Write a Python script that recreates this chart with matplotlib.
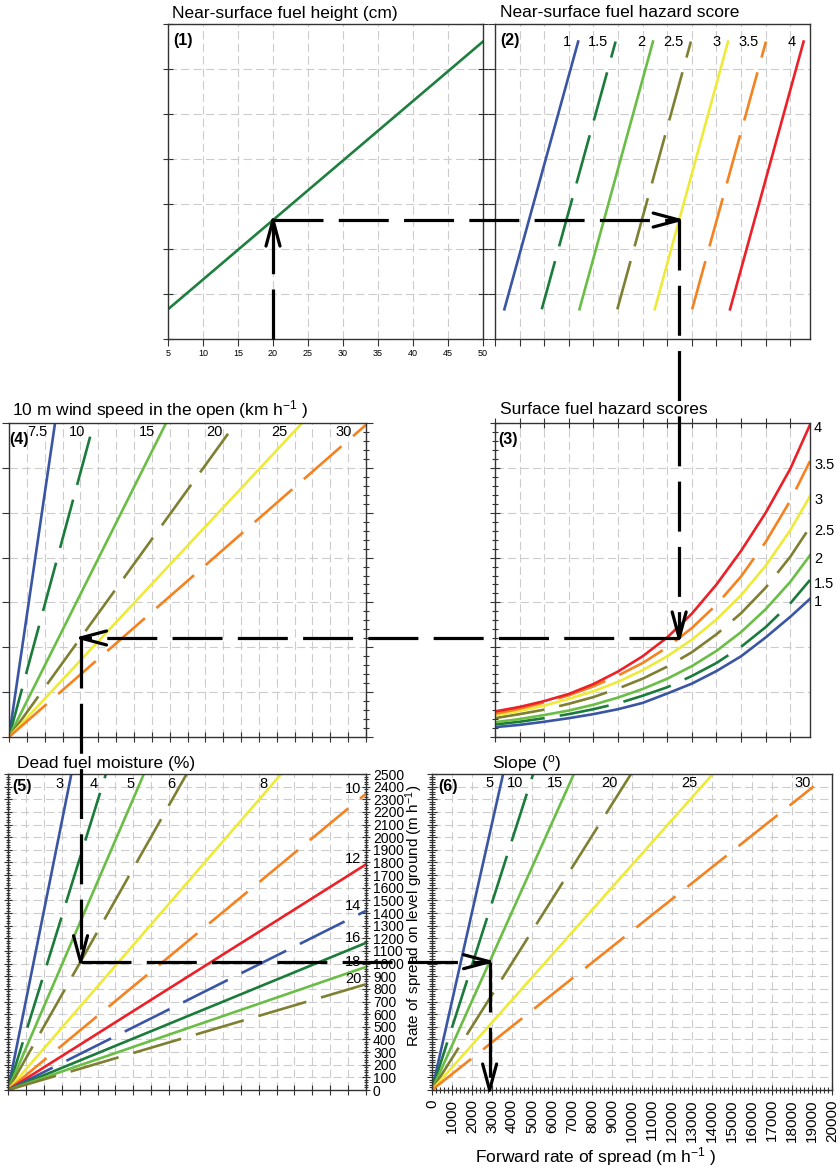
import matplotlib.pyplot as plt
import numpy as np
from matplotlib.ticker import MultipleLocator

plt.rcParams['font.family'] = 'Liberation Sans'
plt.rcParams['mathtext.fontset'] = 'custom'
plt.rcParams['mathtext.rm'] = 'Liberation Sans'
plt.rcParams['mathtext.default'] = 'regular'
plt.rcParams['lines.scale_dashes'] = False

W, H = 840, 1171

BLUE = '#3a55a4'
DKGREEN = '#1b7b3b'
LTGREEN = '#6abd45'
OLIVE = '#7f7f32'
YELLOW = '#eeea3a'
ORANGE = '#f58220'
RED = '#ec2027'
DASH = (0, (36, 11))

# (1) near-surface fuel height -> reading level
height_cm = [5, 50]
height_level = [0.66, 6.61]

# (2) near-surface fuel hazard score lines
ns_scores = ['1', '1.5', '2', '2.5', '3', '3.5', '4']
ns_x_bottom = [0.38, 1.90, 3.43, 4.97, 6.49, 8.01, 9.55]
ns_x_top = [3.38, 4.90, 6.42, 7.96, 9.47, 11.01, 12.54]
ns_y = [0.66, 6.61]

# (3) surface fuel hazard score curves
surf_scores = ['1', '1.5', '2', '2.5', '3', '3.5', '4']
surf_x = [0, 1, 2, 3, 4, 5, 6, 7, 8, 9, 10, 11, 12, 12.8]
surf_1 = [0.22, 0.27, 0.34, 0.42, 0.51, 0.62, 0.76, 0.97, 1.19, 1.47, 1.80, 2.22, 2.68, 3.08]
surf_15 = [0.28, 0.34, 0.42, 0.51, 0.62, 0.75, 0.92, 1.11, 1.36, 1.65, 2.01, 2.45, 2.98, 3.50]
surf_2 = [0.33, 0.40, 0.49, 0.59, 0.72, 0.88, 1.07, 1.30, 1.58, 1.92, 2.34, 2.85, 3.46, 4.05]
surf_25 = [0.42, 0.51, 0.61, 0.74, 0.89, 1.08, 1.30, 1.57, 1.89, 2.29, 2.76, 3.33, 4.02, 4.68]
surf_3 = [0.48, 0.58, 0.70, 0.85, 1.02, 1.23, 1.49, 1.80, 2.17, 2.62, 3.16, 3.82, 4.61, 5.37]
surf_35 = [0.52, 0.63, 0.77, 0.93, 1.13, 1.37, 1.65, 2.00, 2.43, 2.95, 3.58, 4.35, 5.27, 6.15]
surf_4 = [0.57, 0.67, 0.80, 0.96, 1.18, 1.46, 1.80, 2.22, 2.75, 3.40, 4.15, 5.00, 5.98, 6.96]
surf_curves = [surf_1, surf_15, surf_2, surf_25, surf_3, surf_35, surf_4]

# (4) 10 m wind speed rays (end points)
wind_labels = ['7.5', '10', '15', '20', '25', '30']
wind_end_x = [2.58, 4.59, 8.80, 12.27, 16.42, 20.0]
wind_end_y = [7.0, 6.76, 7.0, 6.76, 7.0, 6.96]

# (5) dead fuel moisture rays (end points), rate of spread on level ground
moist_labels = ['3', '4', '5', '6', '8', '10', '12', '14', '16', '18', '20']
moist_end_x = [3.54, 5.47, 7.59, 9.98, 15.26, 20, 20, 20, 20, 20, 20]
moist_end_y = [2500, 2500, 2500, 2500, 2500, 2344, 1785, 1418, 1164, 974, 837]

# (6) slope rays (end points), forward rate of spread
slope_labels = ['5', '10', '15', '20', '25', '30']
slope_end_x = [3556, 5058, 7095, 9950, 14040, 19082]
slope_end_y = [2500, 2500, 2500, 2500, 2500, 2402]

# worked example
ex_height = 20
ex_ns_score = '3'
ex_surf_score = '3.5'
ex_wind = '20'
ex_moist = '6'
ex_slope = '15'

# line styles per series
score_colors = [BLUE, DKGREEN, LTGREEN, OLIVE, YELLOW, ORANGE, RED]
score_styles = ['-', DASH, '-', DASH, '-', DASH, '-']
six_colors = [BLUE, DKGREEN, LTGREEN, OLIVE, YELLOW, ORANGE]
six_styles = ['-', DASH, '-', DASH, '-', DASH]
moist_colors = [BLUE, DKGREEN, LTGREEN, OLIVE, YELLOW, ORANGE, RED, BLUE, DKGREEN, LTGREEN, OLIVE]
moist_styles = ['-', DASH, '-', DASH, '-', DASH, '-', DASH, '-', '-', DASH]

LW = 1.9

fig = plt.figure(figsize=(W / 100, H / 100), dpi=100)


def add_panel(left, top, right, bottom):
    return fig.add_axes([left / W, 1 - bottom / H, (right - left) / W, (bottom - top) / H])


ax1 = add_panel(168, 24, 483, 339)
ax2 = add_panel(495, 24, 810, 339)
ax4 = add_panel(9, 423, 366, 737)
ax3 = add_panel(495, 423, 810, 737)
ax5 = add_panel(8, 774, 366, 1090)
ax6 = add_panel(432, 774, 832, 1090)

for ax in (ax1, ax2, ax3, ax4, ax5, ax6):
    ax.grid(True, which='major', color='#cccccc', linestyle=(0, (6, 3)), linewidth=0.8)
    ax.set_axisbelow(True)
    for sp in ax.spines.values():
        sp.set_color('#333333')
        sp.set_linewidth(1.0)
    ax.tick_params(which='both', color='#333333', width=0.8)


def heading(ax, text, dx, dy):
    ax.annotate(text, xy=(0, 1), xycoords='axes fraction', xytext=(dx, dy),
                textcoords='offset pixels', ha='left', va='baseline', fontsize=12.5)


def tag(ax, text, dx, dy):
    ax.annotate(text, xy=(0, 1), xycoords='axes fraction', xytext=(dx, dy),
                textcoords='offset pixels', ha='left', va='center',
                fontsize=11.5, fontweight='bold')


# (1)
ax1.plot(height_cm, height_level, color='#1f7f3f', lw=LW)
ax1.set_xlim(5, 50)
ax1.set_ylim(0, 7)
ax1.set_xticks(range(5, 51, 5))
ax1.set_yticks(range(0, 8))
ax1.tick_params(axis='x', direction='out', length=5, labelsize=6.5, pad=2)
ax1.tick_params(axis='y', left=True, right=True, direction='inout', length=7, labelleft=False)
heading(ax1, 'Near-surface fuel height (cm)', 4, 6)
tag(ax1, '(1)', 5, -17)

# (2)
for i, s in enumerate(ns_scores):
    ax2.plot([ns_x_bottom[i], ns_x_top[i]], ns_y, color=score_colors[i],
             linestyle=score_styles[i], lw=LW)
    ax2.text(ns_x_top[i] - 0.3, ns_y[1], s, ha='right', va='center', fontsize=10.5)
ax2.set_xlim(0, 12.8)
ax2.set_ylim(0, 7)
ax2.set_xticks(range(0, 13))
ax2.set_yticks(range(0, 8))
ax2.tick_params(direction='out', length=5, labelbottom=False, labelleft=False)
heading(ax2, 'Near-surface fuel hazard score', 5, 7)
tag(ax2, '(2)', 5, -17)

# (3)
for i, s in enumerate(surf_scores):
    ax3.plot(surf_x, surf_curves[i], color=score_colors[i], linestyle=score_styles[i], lw=LW)
    ax3.text(1.013, surf_curves[i][-1] - 0.08, s, transform=ax3.get_yaxis_transform(),
             ha='left', va='center', fontsize=10.5)
ax3.set_xlim(0, 12.8)
ax3.set_ylim(0, 7)
ax3.set_xticks(range(0, 13))
ax3.set_yticks(range(0, 8))
ax3.yaxis.set_minor_locator(MultipleLocator(0.2))
ax3.tick_params(axis='x', top=True, bottom=True, direction='inout', length=7,
                labelbottom=False)
ax3.tick_params(axis='y', which='both', direction='inout', labelleft=False)
ax3.tick_params(axis='y', which='major', length=7)
ax3.tick_params(axis='y', which='minor', length=4)
heading(ax3, 'Surface fuel hazard scores', 5, 9)
tag(ax3, '(3)', 3, -16)

# (4)
for i, s in enumerate(wind_labels):
    ax4.plot([0, wind_end_x[i]], [0, wind_end_y[i]], color=six_colors[i],
             linestyle=six_styles[i], lw=LW)
    lx = wind_end_x[i] * 6.8 / wind_end_y[i] - 0.35
    ax4.text(lx, 6.8, s, ha='right', va='center', fontsize=10.5)
ax4.set_xlim(0, 20)
ax4.set_ylim(0, 7)
ax4.set_xticks(range(0, 21))
ax4.set_yticks(range(0, 8))
ax4.yaxis.set_minor_locator(MultipleLocator(0.2))
ax4.tick_params(axis='x', direction='inout', length=7, labelbottom=False)
ax4.tick_params(axis='y', which='major', left=True, right=True, direction='out', length=5,
                labelleft=False)
ax4.tick_params(axis='y', which='minor', left=False, right=True, direction='inout', length=5)
heading(ax4, '10 m wind speed in the open (km h$^{-1}$ )', 3, 8)
tag(ax4, '(4)', 0, -16)

# (5)
for i, s in enumerate(moist_labels):
    ax5.plot([0, moist_end_x[i]], [0, moist_end_y[i]], color=moist_colors[i],
             linestyle=moist_styles[i], lw=LW)
    if moist_end_y[i] >= 2500:
        lx = moist_end_x[i] * 2421 / moist_end_y[i] - 0.3
        ax5.text(lx, 2421, s, ha='right', va='center', fontsize=10.5)
    else:
        ax5.text(19.75, moist_end_y[i] + 40, s, ha='right', va='center', fontsize=10.5)
ax5.set_xlim(0, 20)
ax5.set_ylim(0, 2500)
ax5.set_xticks(range(0, 21))
ax5.yaxis.set_major_locator(MultipleLocator(100))
ax5.yaxis.set_minor_locator(MultipleLocator(20))
ax5.tick_params(axis='x', direction='inout', length=7, labelbottom=False)
ax5.tick_params(axis='y', which='both', left=True, right=True, direction='inout',
                labelleft=False, labelright=True, labelsize=10, pad=2)
ax5.tick_params(axis='y', which='major', length=6)
ax5.tick_params(axis='y', which='minor', length=3)
ax5.yaxis.set_label_position('right')
ax5.set_ylabel('Rate of spread on level ground (m h$^{-1}$)', fontsize=11)
ax5.yaxis.set_label_coords(1.105, 0.55)
heading(ax5, 'Dead fuel moisture (%)', 9, 6)
tag(ax5, '(5)', 4, -13)

# (6)
for i, s in enumerate(slope_labels):
    ax6.plot([0, slope_end_x[i]], [0, slope_end_y[i]], color=six_colors[i],
             linestyle=six_styles[i], lw=LW)
    lx = slope_end_x[i] * 2426 / slope_end_y[i] - 350
    ax6.text(lx, 2426, s, ha='right', va='center', fontsize=10.5)
ax6.set_xlim(0, 20000)
ax6.set_ylim(0, 2500)
ax6.xaxis.set_major_locator(MultipleLocator(1000))
ax6.xaxis.set_minor_locator(MultipleLocator(200))
ax6.yaxis.set_major_locator(MultipleLocator(100))
ax6.yaxis.set_minor_locator(MultipleLocator(20))
ax6.tick_params(axis='x', which='both', direction='inout', labelsize=11, labelrotation=90, pad=3)
ax6.tick_params(axis='x', which='major', length=7)
ax6.tick_params(axis='x', which='minor', length=4)
ax6.tick_params(axis='y', which='both', direction='inout', labelleft=False)
ax6.tick_params(axis='y', which='major', length=7)
ax6.tick_params(axis='y', which='minor', length=4)
ax6.set_xlabel('Forward rate of spread (m h$^{-1}$ )', fontsize=12.5)
ax6.xaxis.set_label_coords(0.41, -0.175)
heading(ax6, 'Slope ($^{o}$)', 60, 6)
tag(ax6, '(6)', 6, -13)

# worked example path, traced through each panel in pixel space
to_px = lambda ax, x, y: ax.transData.transform((x, y))
from_px = lambda ax, p: ax.transData.inverted().transform(p)

p0 = to_px(ax1, ex_height, 0)
p1 = to_px(ax1, ex_height, np.interp(ex_height, height_cm, height_level))

k = ns_scores.index(ex_ns_score)
y2 = from_px(ax2, p1)[1]
x2 = ns_x_bottom[k] + (y2 - ns_y[0]) * (ns_x_top[k] - ns_x_bottom[k]) / (ns_y[1] - ns_y[0])
p2 = to_px(ax2, x2, y2)

x3 = from_px(ax3, p2)[0]
p3 = to_px(ax3, x3, np.interp(x3, surf_x, surf_curves[surf_scores.index(ex_surf_score)]))

k = wind_labels.index(ex_wind)
y4 = from_px(ax4, p3)[1]
p4 = to_px(ax4, y4 * wind_end_x[k] / wind_end_y[k], y4)

k = moist_labels.index(ex_moist)
x5 = from_px(ax5, p4)[0]
p5 = to_px(ax5, x5, x5 * moist_end_y[k] / moist_end_x[k])

k = slope_labels.index(ex_slope)
y6 = from_px(ax6, p5)[1]
x6 = y6 * slope_end_x[k] / slope_end_y[k]
p6 = to_px(ax6, x6, y6)
p7 = to_px(ax6, x6, 0)

ov = fig.add_axes([0, 0, 1, 1], zorder=10)
ov.set_xlim(0, W)
ov.set_ylim(0, H)
ov.axis('off')


def arrow_leg(a, b):
    a, b = np.asarray(a), np.asarray(b)
    ov.plot([a[0], b[0]], [a[1], b[1]], color='black', lw=2.3, linestyle=DASH,
            dash_capstyle='butt')
    d = (b - a) / np.hypot(*(b - a))
    n = np.array([-d[1], d[0]])
    for s in (1, -1):
        tail = b - 26 * d + s * 7 * n
        ov.plot([tail[0], b[0]], [tail[1], b[1]], color='black', lw=2.3,
                solid_capstyle='round')


path = [p0, p1, p2, p3, p4, p5, p6, p7]
for a, b in zip(path[:-1], path[1:]):
    arrow_leg(a, b)

fig.savefig('out.png', dpi=100)
